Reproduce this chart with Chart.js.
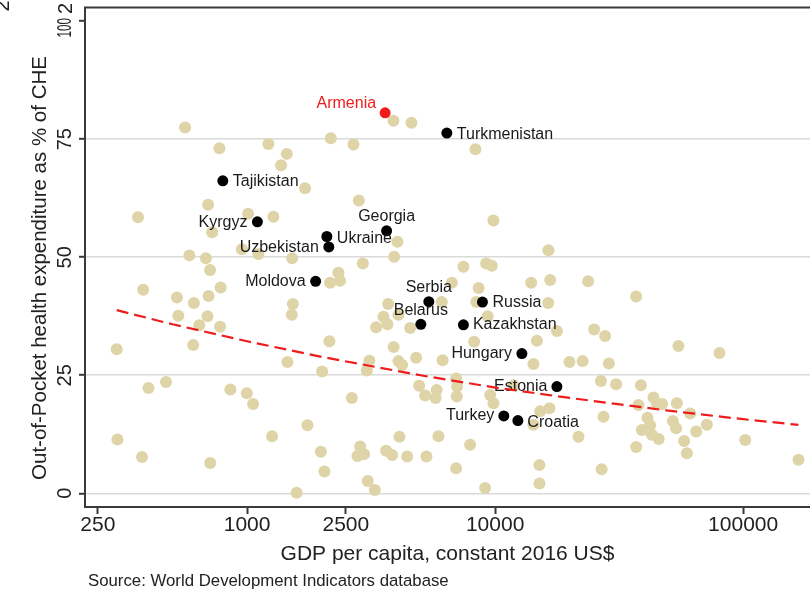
<!DOCTYPE html>
<html>
<head>
<meta charset="utf-8">
<script src="https://cdn.jsdelivr.net/npm/chart.js@4.4.1/dist/chart.umd.min.js"></script>
<style>
html,body{margin:0;padding:0;background:#ffffff;}
#wrap{width:810px;height:594px;position:relative;overflow:hidden;}
</style>
</head>
<body>
<div id="wrap"><canvas id="c" width="810" height="594"></canvas></div>
<script>
// ---------------- DATA ----------------
const otherGdp = [298,300,363,381,377,400,471,521,528,562,585,610,606,641,682,696,699,692,709,710,723,773,782,778,856,952,997,1009,1057,1110,1218,1261,1276,1371,1445,1713,1454,1514,1529,1519,1584,1751,1983,2006,2050,2147,2161,2371,2334,2175,2684,2645,2821,2856,2963,2785,2928,3067,3273,3112,3039,3313,3545,3679,3703,3890,3915,4037,3897,4075,4075,4217,3635,3843,4113,4418,4543,4598,4803,4938,5221,5284,5809,5755,5907,6096,6141,6689,6962,7027,7005,6962,7450,7929,8228,8329,8580,8400,9115,9199,9698,9328,9546,9843,9843,11850,13970,14270,14730,14270,15190,16560,15090,15090,16400,16370,16670,17740,19940,22530,21680,23710,25070,27770,28740,26690,30750,38690,27340,26880,37040,37040,37830,39040,41130,42170,42850,43490,45000,47140,45640,52060,53680,54040,54840,57820,59290,61140,64660,71390,80260,101900,167100];
const otherOop = [30.5,11.4,58.5,43.1,7.7,22.3,23.6,41.5,37.6,77.5,50.4,40.3,31.4,35.6,49.8,61.1,41.8,37.5,47.3,6.4,55.3,73.1,43.6,35.3,22.0,51.7,21.2,59.2,18.9,50.7,74.0,12.1,58.6,69.5,71.9,64.6,27.8,37.8,40.1,49.8,0.1,14.4,8.8,25.8,4.6,32.2,44.6,45.0,46.7,75.2,73.9,20.2,62.0,9.9,8.3,7.9,48.7,2.6,0.7,28.1,26.0,35.2,37.4,35.8,40.1,78.9,50.1,53.3,31.0,37.8,28.0,27.2,9.0,8.1,12.0,7.8,35.0,78.5,28.7,22.8,20.7,7.8,21.9,20.2,12.1,40.5,28.2,44.6,24.3,22.6,20.5,5.3,48.0,10.3,32.1,72.9,43.5,40.5,1.1,48.7,48.2,37.5,20.8,19.1,57.8,22.9,44.6,27.4,32.3,14.5,17.4,18.0,6.0,2.1,51.5,40.3,45.2,34.4,27.8,28.0,12.0,44.9,34.7,33.3,27.5,23.8,23.1,22.9,16.2,5.1,41.7,9.8,18.7,13.4,16.0,14.4,12.4,20.3,18.9,18.9,11.5,15.3,13.8,19.1,31.2,11.1,8.5,16.9,13.1,14.5,29.7,11.3,7.1];

const labeledCountries = ['Turkmenistan','Tajikistan','Kyrgyz','Georgia','Ukraine','Uzbekistan','Moldova','Serbia','Belarus','Russia','Kazakhstan','Hungary','Estonia','Turkey','Croatia'];
const labeledGdp = [6386,798,1100,3651,2096,2135,1889,5403,5017,8890,7450,12820,17740,10840,12350];
const labeledOop = [76.3,66.2,57.5,55.6,54.4,52.2,44.9,40.6,35.8,40.5,35.7,29.6,22.6,16.4,15.4];

const highlightCountries = ['Armenia'];
const highlightGdp = [3601];
const highlightOop = [80.6];

const fitGdp = [298,500,1000,2000,5000,10000,20000,50000,100000,167000];
const fitOop = [38.8,35.8,32.2,28.9,25.0,22.4,20.2,17.5,15.7,14.5];

const xTickValues = [250,1000,2500,10000,100000];
const xTickLabels = ['250','1000','2500','10000','100000'];
const yTickValues = [0,25,50,75,100];
const yTickLabels = ['0','25','50','75','100'];

const xTitle = 'GDP per capita, constant 2016 US$';
const yTitle = 'Out-of-Pocket health expenditure as % of CHE';
const sourceNote = 'Source: World Development Indicators database';

// ---------------- PRESENTATION ----------------
const FONT = '"Liberation Sans", Arial, Helvetica, sans-serif';
const RED = '#ee1c1c';
const labelPlacement = {
  Armenia:{side:'left',dx:-9,dy:-9.5},
  Turkmenistan:{side:'right',dx:10,dy:1},
  Tajikistan:{side:'right',dx:10,dy:0.5},
  Kyrgyz:{side:'left',dx:-10,dy:0.5},
  Georgia:{side:'top',dx:0,dy:-14},
  Ukraine:{side:'right',dx:10,dy:2},
  Uzbekistan:{side:'left',dx:-10,dy:1},
  Moldova:{side:'left',dx:-10,dy:0},
  Serbia:{side:'top',dx:0,dy:-14.5},
  Belarus:{side:'top',dx:0,dy:-14},
  Russia:{side:'right',dx:10,dy:0},
  Kazakhstan:{side:'right',dx:9.5,dy:0},
  Hungary:{side:'left',dx:-10,dy:0},
  Estonia:{side:'left',dx:-9.5,dy:0},
  Turkey:{side:'left',dx:-9.5,dy:0},
  Croatia:{side:'right',dx:9.5,dy:1.5}
};

const toPts = (xs, ys) => xs.map((x,i)=>({x:x, y:ys[i]}));

const textPlugin = {
  id:'texts',
  afterDatasetDraw(chart, args){
    const ds = chart.data.datasets[args.index];
    if(!ds.pointNames) return;
    const ctx = chart.ctx;
    ctx.save();
    ctx.font = '16px ' + FONT;
    ctx.fillStyle = ds.labelColor;
    ctx.textBaseline = 'middle';
    args.meta.data.forEach((el,i)=>{
      const name = ds.pointNames[i];
      const p = labelPlacement[name];
      ctx.textAlign = p.side==='left' ? 'right' : (p.side==='right' ? 'left' : 'center');
      ctx.fillText(name, el.x + p.dx, el.y + p.dy);
    });
    ctx.restore();
  },
  afterDraw(chart){
    const ctx = chart.ctx, a = chart.chartArea;
    const ys = chart.scales.y;
    ctx.save();
    // top frame line
    ctx.strokeStyle = '#3a3a3a';
    ctx.lineWidth = 2;
    ctx.beginPath(); ctx.moveTo(a.left-1, a.top-0.5); ctx.lineTo(a.right+2, a.top-0.5); ctx.stroke();
    // y tick labels (rotated); the top one is squeezed below its tick, as in the reference
    ctx.fillStyle = '#222';
    ctx.font = '20px ' + FONT;
    ctx.textAlign = 'center';
    ctx.textBaseline = 'alphabetic';
    yTickValues.forEach((v,i)=>{
      const py = ys.getPixelForValue(v);
      const top = (i === yTickValues.length - 1);
      ctx.save(); ctx.translate(71, top ? py + 6.5 : py); ctx.rotate(-Math.PI/2);
      if (top) ctx.scale(0.58, 1);
      ctx.fillText(yTickLabels[i], 0, 0); ctx.restore();
    });
    // stray clipped glyphs at the top-left corner of the reference
    ctx.save(); ctx.translate(72, 8.5); ctx.rotate(-Math.PI/2); ctx.fillText('2',0,0); ctx.restore();
    ctx.save(); ctx.translate(9, 6); ctx.rotate(-Math.PI/2); ctx.fillText('2',0,0); ctx.restore();
    // y title
    ctx.font = '20.5px ' + FONT;
    ctx.save(); ctx.translate(46, 268); ctx.rotate(-Math.PI/2);
    ctx.fillText(yTitle, 0, 0); ctx.restore();
    // x title
    ctx.textBaseline = 'middle';
    ctx.font = '21px ' + FONT;
    ctx.fillText(xTitle, (a.left + a.right)/2, 554);
    // source
    ctx.textAlign = 'left';
    ctx.font = '16.8px ' + FONT;
    ctx.fillText(sourceNote, 88, 581);
    ctx.restore();
  }
};

new Chart(document.getElementById('c'), {
  type:'scatter',
  data:{
    datasets:[
      {
        label:'Fitted', data: toPts(fitGdp, fitOop), showLine:true, pointRadius:0,
        borderColor: RED, borderWidth:2.2, borderDash:[12,6], fill:false, tension:0, order:0
      },
      {
        label:'Armenia', data: toPts(highlightGdp, highlightOop), pointNames: highlightCountries, labelColor: RED,
        pointRadius:5.5, pointBackgroundColor: RED, pointBorderWidth:0, order:1
      },
      {
        label:'Selected', data: toPts(labeledGdp, labeledOop), pointNames: labeledCountries, labelColor:'#1a1a1a',
        pointRadius:5.5, pointBackgroundColor:'#000000', pointBorderWidth:0, order:2
      },
      {
        label:'Other', data: toPts(otherGdp, otherOop),
        pointRadius:6, pointBackgroundColor:'#dfd4a7', pointBorderWidth:0, order:3
      }
    ]
  },
  options:{
    responsive:false, animation:false, events:[], devicePixelRatio:1,
    layout:{autoPadding:false, padding:{top:8,left:0,right:0,bottom:0}},
    plugins:{legend:{display:false}, tooltip:{enabled:false}},
    scales:{
      x:{
        type:'logarithmic', min:222, max:186000,
        afterBuildTicks: s => { s.ticks = xTickValues.map(v=>({value:v})); },
        afterFit: s => { s.height = 87; s.paddingLeft = 0; s.paddingRight = 0; },
        ticks:{autoSkip:false, minRotation:0, maxRotation:0, padding:1, color:'#222',
          font:{family:FONT, size:21, lineHeight:1},
          callback: v => { const i = xTickValues.indexOf(v); return i>=0 ? xTickLabels[i] : ''; }},
        grid:{drawOnChartArea:false, drawTicks:true, tickLength:7, tickColor:'#3a3a3a', tickWidth:2},
        border:{display:true, color:'#3a3a3a', width:2}
      },
      y:{
        min:-2.9, max:102.8,
        afterBuildTicks: s => { s.ticks = yTickValues.map(v=>({value:v})); },
        afterFit: s => { s.width = 85; },
        ticks:{display:false},
        grid:{
          color: c => (c.tick && c.tick.value === 100) ? 'rgba(0,0,0,0)' : '#dadada',
          lineWidth:1.6, drawTicks:true, tickLength:6, tickColor:'#3a3a3a', tickWidth:2
        },
        border:{display:true, color:'#3a3a3a', width:2}
      }
    }
  },
  plugins:[textPlugin]
});
</script>
</body>
</html>
